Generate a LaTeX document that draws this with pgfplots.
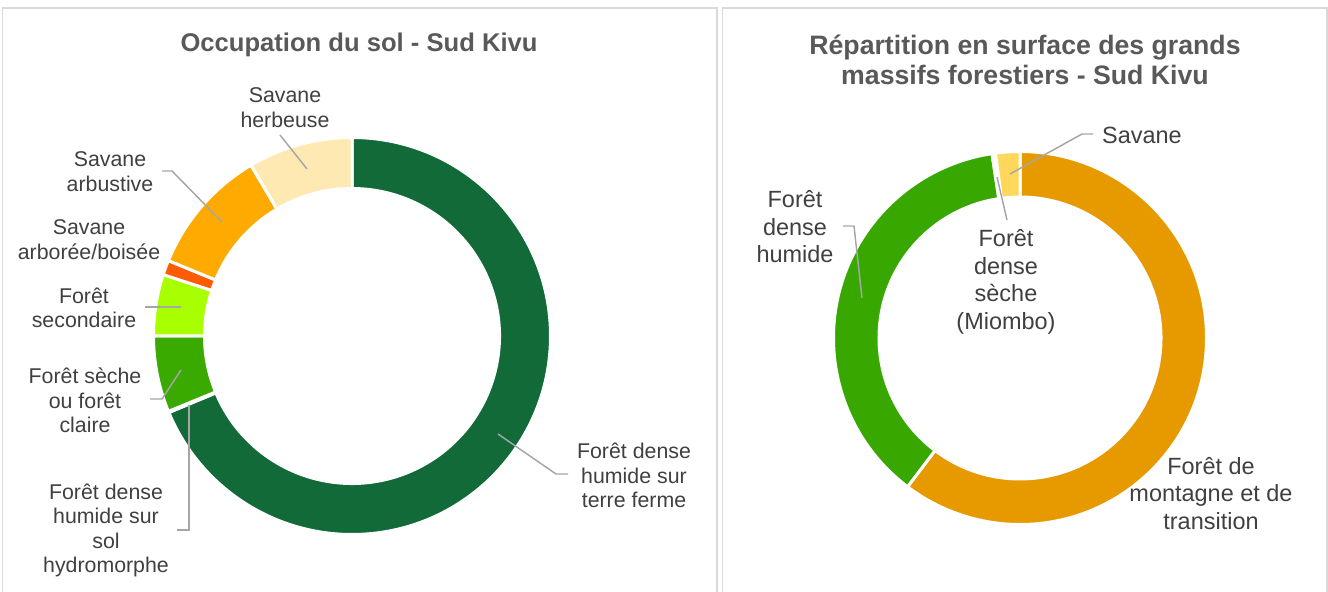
\documentclass[border=0pt]{standalone}
\usepackage{pgfplots}
\pgfplotsset{compat=1.18}
\usepackage{pgfplotstable}
\usepackage{fontspec}
\setmainfont{Liberation Sans}

\definecolor{cTerre}{HTML}{116A37}
\definecolor{cHydro}{HTML}{0E5A2E}
\definecolor{cSeche}{HTML}{3AAA00}
\definecolor{cSecond}{HTML}{A8FF00}
\definecolor{cArbor}{HTML}{FF5B00}
\definecolor{cArbust}{HTML}{FFAA00}
\definecolor{cHerb}{HTML}{FFE9B2}
\definecolor{cMont}{HTML}{E69A00}
\definecolor{cHum}{HTML}{38A800}
\definecolor{cMiombo}{HTML}{C9E7A6}
\definecolor{cSav}{HTML}{FFD75A}
\definecolor{labelgray}{HTML}{404040}
\definecolor{titlegray}{HTML}{595959}
\definecolor{leader}{HTML}{A6A6A6}
\definecolor{frame}{HTML}{D9D9D9}

% Occupation du sol - Sud Kivu (percent of surface)
\pgfplotstableread{
label value
TerreFerme 68.7
Hydromorphe 0.1
Seche 6.2
Secondaire 5.0
Arboree 1.2
Arbustive 10.3
Herbeuse 8.5
}\occtable

% Grands massifs forestiers - Sud Kivu (percent of surface)
\pgfplotstableread{
label value
Montagne 60.3
DenseHumide 37.3
Miombo 0.3
Savane 2.1
}\masstable

\newcommand\computedonut[3]{%
  \pgfplotstablegetrowsof{#1}%
  \pgfmathtruncatemacro\lastrow{\pgfplotsretval-1}%
  \gdef\cumval{0}%
  \pgfplotsforeachungrouped \i in {0,...,\lastrow}{%
    \pgfplotstablegetelem{\i}{value}\of{#1}%
    \let\curval\pgfplotsretval
    \pgfmathsetmacro\aa{90-\cumval*3.6}%
    \pgfmathsetmacro\newcum{\cumval+\curval}%
    \pgfmathsetmacro\bb{90-\newcum*3.6}%
    \pgfmathsetmacro\xa{cos(\aa)}\pgfmathsetmacro\ya{sin(\aa)}%
    \pgfmathsetmacro\xib{#3*cos(\bb)}\pgfmathsetmacro\yib{#3*sin(\bb)}%
    \expandafter\xdef\csname #2a\i\endcsname{\aa}%
    \expandafter\xdef\csname #2b\i\endcsname{\bb}%
    \expandafter\xdef\csname #2xa\i\endcsname{\xa}%
    \expandafter\xdef\csname #2ya\i\endcsname{\ya}%
    \expandafter\xdef\csname #2xib\i\endcsname{\xib}%
    \expandafter\xdef\csname #2yib\i\endcsname{\yib}%
    \xdef\cumval{\newcum}%
  }%
}
\computedonut{\occtable}{L}{0.7431}
\computedonut{\masstable}{R}{0.7560}

\newcommand\drawslice[5]{%
  \fill[fill=#3, draw=white, line width=2.25pt]
   (axis cs:\csname #1xa#2\endcsname,\csname #1ya#2\endcsname)
   arc[start angle=\csname #1a#2\endcsname, end angle=\csname #1b#2\endcsname, radius=#4]
   -- (axis cs:\csname #1xib#2\endcsname,\csname #1yib#2\endcsname)
   arc[start angle=\csname #1b#2\endcsname, end angle=\csname #1a#2\endcsname, radius=#5]
   -- cycle;
}

\begin{document}
\begin{tikzpicture}
\path[use as bounding box] (0pt,0pt) rectangle (996pt,444pt);
\clip (0pt,0pt) rectangle (996pt,444pt);
\fill[white] (0pt,0pt) rectangle (996pt,444pt);

\begin{axis}[at={(264pt,192pt)}, anchor=center, width=297.75pt, height=297.75pt,
  scale only axis, xmin=-1, xmax=1, ymin=-1, ymax=1, hide axis, clip=false]
\drawslice{L}{0}{cTerre}{148.875pt}{110.625pt}
\drawslice{L}{1}{cHydro}{148.875pt}{110.625pt}
\drawslice{L}{2}{cSeche}{148.875pt}{110.625pt}
\drawslice{L}{3}{cSecond}{148.875pt}{110.625pt}
\drawslice{L}{4}{cArbor}{148.875pt}{110.625pt}
\drawslice{L}{5}{cArbust}{148.875pt}{110.625pt}
\drawslice{L}{6}{cHerb}{148.875pt}{110.625pt}
\end{axis}

\begin{axis}[at={(765pt,190.5pt)}, anchor=center, width=279.75pt, height=279.75pt,
  scale only axis, xmin=-1, xmax=1, ymin=-1, ymax=1, hide axis, clip=false]
\drawslice{R}{0}{cMont}{139.875pt}{105.75pt}
\drawslice{R}{1}{cHum}{139.875pt}{105.75pt}
\drawslice{R}{2}{cMiombo}{139.875pt}{105.75pt}
\drawslice{R}{3}{cSav}{139.875pt}{105.75pt}
\end{axis}

\begin{scope}[yshift=444pt, x=0.75pt, y=-0.75pt]
% panel frames
\draw[frame, line width=1.2pt] (2.5,8) rectangle (717,620);
\draw[frame, line width=1.2pt] (722.5,8) rectangle (1327,620);

% titles
\node[text=titlegray, font=\fontsize{19.2pt}{22.5pt}\selectfont\bfseries, align=center] at (359,45) {Occupation du sol - Sud Kivu};
\node[text=titlegray, font=\fontsize{20pt}{22.5pt}\selectfont\bfseries, align=center] at (1025,60) {Répartition en surface des grands\\massifs forestiers - Sud Kivu};

% leader lines
\begin{scope}[leader, line width=1.1pt]
\draw (280,135) -- (307,169);
\draw (162,171) -- (172,171) -- (222,222);
\draw (145,307) -- (181,307);
\draw (150,399) -- (162,399) -- (181,370);
\draw (177,530) -- (189,530) -- (189,405);
\draw (568,474) -- (556,474) -- (498,434);
\draw (1093,134) -- (1082,134) -- (1010,174);
\draw (843,226) -- (854,226) -- (862,298);
\draw (997,177) -- (1007,220);
\end{scope}

% labels, left chart
\begin{scope}[every node/.style={text=labelgray, font=\fontsize{16pt}{18.4pt}\selectfont, align=center}]
\node at (285,107.5) {Savane\\herbeuse};
\node at (110,171.5) {Savane\\arbustive};
\node at (89,239.5) {Savane\\arborée/boisée};
\node at (84,308) {Forêt\\secondaire};
\node at (85,400.5) {Forêt sèche\\ou forêt\\claire};
\node at (106,530.5) {Forêt dense\\humide sur\\sol\\hydromorphe};
\node at (634,475.5) {Forêt dense\\humide sur\\terre ferme};
\end{scope}
% labels, right chart
\begin{scope}[every node/.style={text=labelgray, font=\fontsize{17.6pt}{20.6pt}\selectfont, align=center}]
\node at (1142,135) {Savane};
\node at (1006,282) {Forêt\\dense\\sèche\\(Miombo)};
\node at (795,227) {Forêt\\dense\\humide};
\node at (1211,493.5) {Forêt de\\montagne et de\\transition};
\end{scope}
\end{scope}
\end{tikzpicture}
\end{document}
